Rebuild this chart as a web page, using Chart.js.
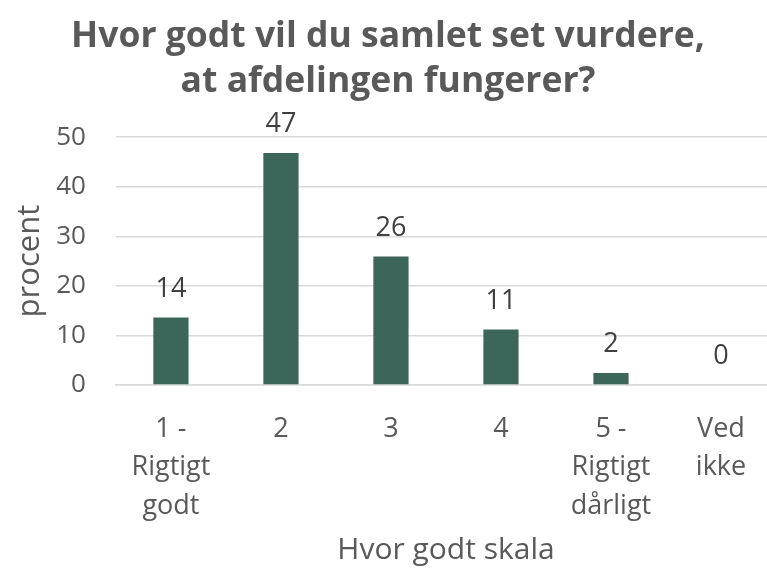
<!DOCTYPE html>
<html>
<head>
<meta charset="utf-8">
<script src="https://cdn.jsdelivr.net/npm/chart.js@4"></script>
<style>
  html, body { margin: 0; padding: 0; background: #fff; overflow: hidden; }
  #wrap { width: 778px; height: 572px; }
</style>
</head>
<body>
<div id="wrap"><canvas id="chart"></canvas></div>
<script>
// data
const categories = [['1 -', 'Rigtigt', 'godt'], '2', '3', '4', ['5 -', 'Rigtigt', 'dårligt'], ['Ved', 'ikke']];
const percentValues = [13.6, 46.8, 25.9, 11.2, 2.4, 0];
const yTicks = [0, 10, 20, 30, 40, 50];

const FONT = '"Open Sans", Lato, sans-serif';

// labels above the bars
const barLabels = {
  id: 'barLabels',
  afterDatasetsDraw(chart) {
    const ctx = chart.ctx;
    const meta = chart.getDatasetMeta(0);
    ctx.save();
    ctx.font = '27px ' + FONT;
    ctx.fillStyle = '#404040';
    ctx.textAlign = 'center';
    ctx.textBaseline = 'bottom';
    meta.data.forEach((bar, i) => {
      ctx.fillText(Math.round(percentValues[i]), bar.x, bar.y - 15);
    });
    ctx.restore();
  }
};

new Chart(document.getElementById('chart'), {
  type: 'bar',
  data: {
    labels: categories,
    datasets: [{
      data: percentValues,
      backgroundColor: '#3b6659',
      borderWidth: 0,
      barPercentage: 0.32,
      categoryPercentage: 1
    }]
  },
  options: {
    responsive: true,
    maintainAspectRatio: false,
    animation: false,
    layout: { autoPadding: false, padding: { left: 0, right: 2, top: 14, bottom: 3 } },
    plugins: {
      legend: { display: false },
      tooltip: { enabled: false },
      title: {
        display: true,
        text: ['Hvor godt vil du samlet set vurdere,', 'at afdelingen fungerer?'],
        color: '#595959',
        font: { family: FONT, size: 35.5, weight: 'bold', lineHeight: 1.27 },
        padding: { top: 0, bottom: 33 }
      }
    },
    scales: {
      x: {
        grid: { display: false },
        border: { color: '#d9d9d9', width: 1.5 },
        ticks: {
          color: '#595959',
          font: { family: FONT, size: 27, lineHeight: 1.42 },
          maxRotation: 0,
          padding: 17
        },
        title: {
          display: true,
          text: 'Hvor godt skala',
          color: '#595959',
          font: { family: FONT, size: 30 },
          padding: { top: -10, bottom: 1 }
        }
      },
      y: {
        min: 0,
        max: 50,
        afterBuildTicks(axis) {
          axis.ticks = yTicks.map(v => ({ value: v }));
        },
        grid: { color: '#d9d9d9', lineWidth: 1.5, drawTicks: false },
        border: { display: false },
        ticks: {
          color: '#595959',
          font: { family: FONT, size: 26 },
          padding: 30
        },
        title: {
          display: true,
          text: 'procent',
          color: '#595959',
          font: { family: FONT, size: 31 },
          padding: { top: 12, bottom: -23 }
        }
      }
    }
  },
  plugins: [barLabels]
});
</script>
</body>
</html>
